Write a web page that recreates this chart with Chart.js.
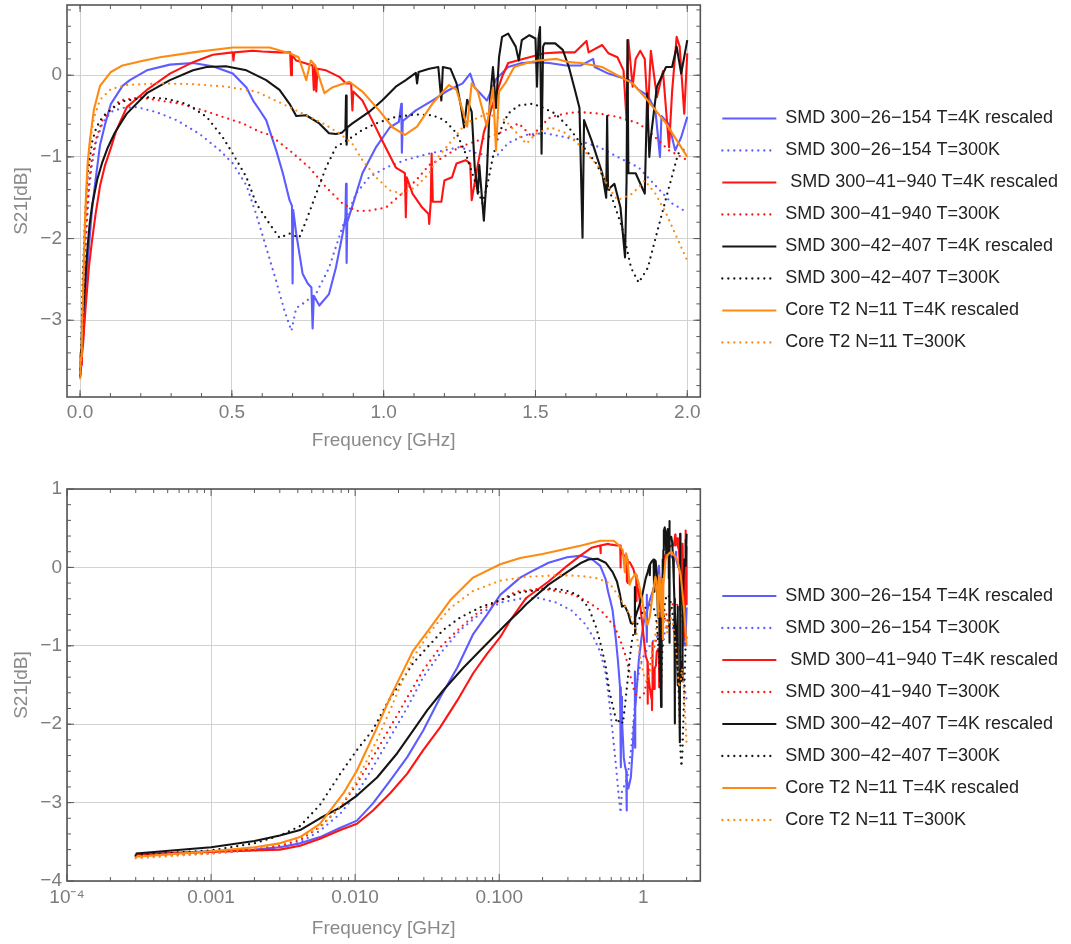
<!DOCTYPE html>
<html>
<head>
<meta charset="utf-8">
<script src="https://cdn.jsdelivr.net/npm/chart.js@4.4.1/dist/chart.umd.min.js"></script>
<style>
  html, body { margin: 0; padding: 0; background: #fff; overflow: hidden; }
  canvas { position: absolute; left: 0; }
  #top { top: 0; }
  #bottom { top: 472px; }
</style>
</head>
<body>
<canvas id="top" width="1071" height="456"></canvas>
<canvas id="bottom" width="1071" height="472"></canvas>
<script>
// Frequencies in GHz, S21 in dB.
const blue4kFreq = [
  0.0003, 0.001, 0.002, 0.003, 0.00415, 0.0057, 0.0079, 0.0103, 0.0133, 0.0175,
  0.023, 0.0297, 0.0389, 0.0511, 0.066, 0.0825, 0.1016, 0.14, 0.164, 0.22,
  0.296, 0.372, 0.437, 0.503, 0.548, 0.57, 0.59, 0.613, 0.646, 0.668,
  0.69, 0.698, 0.700, 0.702, 0.712, 0.733, 0.75, 0.762, 0.766, 0.770,
  0.788, 0.82, 0.843, 0.865, 0.874, 0.876, 0.878, 0.88, 0.897, 0.93,
  0.975, 1.02, 1.05, 1.058, 1.06, 1.063, 1.106, 1.16, 1.215, 1.26,
  1.285, 1.30, 1.34, 1.37, 1.41, 1.455, 1.50, 1.545, 1.60, 1.65,
  1.69, 1.695, 1.74, 1.81, 1.84, 1.87, 1.895, 1.91, 1.915, 1.94,
  1.96, 1.98, 2.0];
const blue4kS21 = [
  -3.66, -3.62, -3.60, -3.57, -3.52, -3.44, -3.32, -3.23, -3.01, -2.72,
  -2.42, -2.08, -1.66, -1.28, -0.85, -0.6, -0.35, -0.13, -0.06, 0.06,
  0.13, 0.15, 0.11, 0.02, -0.15, -0.31, -0.42, -0.55, -0.92, -1.2,
  -1.53, -1.6, -2.55, -1.65, -1.94, -2.43, -2.55, -2.6, -3.1, -2.7,
  -2.82, -2.68, -2.35, -1.94, -1.75, -1.33, -2.3, -1.8, -1.6, -1.2,
  -0.88, -0.64, -0.57, -0.35, -0.95, -0.56, -0.43, -0.31, -0.18, -0.1,
  0.02, -0.15, -0.31, -0.05, 0.1, 0.15, 0.16, 0.15, 0.12, 0.12,
  0.2, 0.1, 0.02, -0.06, -0.18, -0.25, -0.43, -1.0, -0.5, -0.6,
  -0.92, -0.76, -0.51];

const blue300Freq = [
  0.0003, 0.001, 0.002, 0.003, 0.00415, 0.0057, 0.0079, 0.0103, 0.0133, 0.0175,
  0.023, 0.0297, 0.0389, 0.0536, 0.0738, 0.1016, 0.14, 0.187, 0.25, 0.318,
  0.394, 0.46, 0.503, 0.548, 0.58, 0.613, 0.646, 0.673, 0.696, 0.712,
  0.733, 0.778, 0.82, 0.864, 0.909, 0.952, 1.008, 1.07, 1.15, 1.25,
  1.31, 1.37, 1.41, 1.47, 1.53, 1.60, 1.64, 1.71, 1.77, 1.84,
  1.90, 1.95, 2.0];
const blue300S21 = [
  -3.68, -3.64, -3.61, -3.57, -3.51, -3.36, -3.14, -2.88, -2.55, -2.17,
  -1.79, -1.40, -1.10, -0.80, -0.59, -0.45, -0.40, -0.39, -0.45, -0.55,
  -0.72, -0.92, -1.08, -1.35, -1.70, -2.11, -2.52, -2.88, -3.13, -2.85,
  -2.8, -2.67, -2.36, -1.86, -1.45, -1.25, -1.13, -1.04, -0.96, -0.88,
  -0.96, -1.0, -0.83, -0.73, -0.71, -0.76, -0.8, -0.88, -1.0, -1.13,
  -1.37, -1.57, -1.68];

const red4kFreq = [
  0.0003, 0.001, 0.002, 0.003, 0.00415, 0.0057, 0.0079, 0.0103, 0.0133, 0.0175,
  0.023, 0.0297, 0.0389, 0.0511, 0.066, 0.0825, 0.1016, 0.119, 0.154, 0.22,
  0.296, 0.372, 0.437, 0.503, 0.505, 0.508, 0.568, 0.60, 0.657, 0.692,
  0.695, 0.698, 0.712, 0.766, 0.770, 0.774, 0.778, 0.782, 0.81, 0.854,
  0.876, 0.893, 0.897, 0.90, 0.93, 0.962, 0.995, 1.04, 1.07, 1.073,
  1.076, 1.095, 1.127, 1.148, 1.15, 1.155, 1.158, 1.162, 1.19, 1.20,
  1.225, 1.24, 1.27, 1.285, 1.29, 1.31, 1.33, 1.36, 1.39, 1.41,
  1.48, 1.53, 1.58, 1.63, 1.668, 1.675, 1.72, 1.74, 1.77, 1.79,
  1.80, 1.806, 1.82, 1.83, 1.845, 1.86, 1.87, 1.88, 1.90, 1.92,
  1.94, 1.95, 1.965, 1.975, 1.99, 2.0];
const red4kS21 = [
  -3.66, -3.63, -3.61, -3.60, -3.55, -3.46, -3.35, -3.27, -3.10, -2.88,
  -2.63, -2.33, -2.04, -1.70, -1.35, -1.10, -0.89, -0.68, -0.39, -0.18,
  0.02, 0.16, 0.25, 0.28, 0.18, 0.28, 0.30, 0.29, 0.28, 0.28,
  0.0, 0.25, 0.18, 0.12, -0.18, 0.1, -0.2, 0.08, 0.06, -0.02,
  -0.1, -0.1, -0.43, -0.2, -0.31, -0.55, -0.8, -1.13, -1.2, -1.74,
  -1.25, -1.45, -1.62, -1.7, -1.82, -1.55, -0.96, -1.55, -1.55, -1.29,
  -1.25, -1.08, -1.04, -1.08, -1.53, -1.1, -0.7, -0.35, -0.02, 0.15,
  0.22, 0.27, 0.28, 0.28, 0.42, 0.28, 0.37, 0.27, 0.22, 0.06,
  -0.55, 0.43, -0.14, 0.2, 0.3, 0.2, -0.47, 0.3, -0.27, 0.05,
  -0.88, -0.2, 0.47, 0.35, -0.47, 0.27];

const red300Freq = [
  0.0003, 0.001, 0.002, 0.003, 0.00415, 0.0057, 0.0079, 0.0103, 0.0133, 0.0175,
  0.023, 0.0297, 0.0389, 0.0536, 0.0738, 0.1016, 0.131, 0.197, 0.263, 0.33,
  0.404, 0.47, 0.535, 0.59, 0.624, 0.69, 0.755, 0.81, 0.864, 0.909,
  0.95, 1.008, 1.06, 1.106, 1.15, 1.18, 1.25, 1.31, 1.38, 1.445,
  1.49, 1.51, 1.55, 1.60, 1.64, 1.71, 1.77, 1.84, 1.88, 1.94,
  2.0];
const red300S21 = [
  -3.69, -3.65, -3.60, -3.55, -3.48, -3.31, -3.06, -2.76, -2.42, -2.04,
  -1.66, -1.31, -1.02, -0.77, -0.55, -0.42, -0.31, -0.27, -0.31, -0.35,
  -0.43, -0.51, -0.59, -0.69, -0.73, -0.92, -1.13, -1.37, -1.57, -1.66,
  -1.66, -1.62, -1.45, -1.29, -1.1, -1.04, -0.88, -0.8, -0.71, -0.59,
  -0.76, -0.65, -0.51, -0.47, -0.45, -0.47, -0.51, -0.59, -0.71, -0.92,
  -1.04];

const black4kFreq = [
  0.0003, 0.001, 0.002, 0.003, 0.00415, 0.0057, 0.0079, 0.0103, 0.0142, 0.0196,
  0.0253, 0.0317, 0.0408, 0.0564, 0.0738, 0.0909, 0.1136, 0.14, 0.154, 0.22,
  0.296, 0.372, 0.417, 0.48, 0.548, 0.613, 0.657, 0.69, 0.712, 0.745,
  0.788, 0.82, 0.843, 0.864, 0.874, 0.876, 0.878, 0.88, 0.897, 0.952,
  0.995, 1.04, 1.073, 1.106, 1.11, 1.115, 1.15, 1.18, 1.19, 1.195,
  1.22, 1.24, 1.255, 1.265, 1.275, 1.29, 1.30, 1.31, 1.315, 1.33,
  1.34, 1.35, 1.36, 1.37, 1.38, 1.39, 1.41, 1.435, 1.445, 1.455,
  1.48, 1.50, 1.505, 1.51, 1.515, 1.52, 1.525, 1.53, 1.565, 1.59,
  1.61, 1.63, 1.645, 1.655, 1.66, 1.685, 1.72, 1.733, 1.736, 1.739,
  1.76, 1.78, 1.795, 1.80, 1.803, 1.806, 1.83, 1.86, 1.868, 1.875,
  1.88, 1.90, 1.93, 1.95, 1.965, 1.98, 2.0];
const black4kS21 = [
  -3.65, -3.57, -3.49, -3.42, -3.35, -3.20, -3.06, -2.91, -2.68, -2.37,
  -2.08, -1.82, -1.57, -1.28, -1.06, -0.89, -0.71, -0.55, -0.47, -0.22,
  -0.06, 0.06, 0.1, 0.11, 0.06, -0.06, -0.18, -0.35, -0.5, -0.49,
  -0.59, -0.71, -0.72, -0.7, -0.66, -0.25, -0.85, -0.64, -0.59, -0.45,
  -0.31, -0.14, -0.06, 0.03, -0.1, 0.04, 0.08, 0.1, -0.31, 0.1,
  0.08, -0.1, -0.39, -0.64, -0.3, -0.45, -1.13, -1.45, -1.1, -1.78,
  -1.2, -0.31, 0.1, -0.4, 0.22, 0.47, 0.51, 0.35, 0.18, 0.43,
  0.49, 0.45, -0.14, 0.45, 0.59, -0.96, 0.35, 0.39, 0.39, 0.31,
  0.1, -0.18, -0.4, -1.99, -0.55, -0.8, -1.2, -1.5, -0.5, -1.4,
  -1.33, -1.62, -2.23, -1.3, 0.43, -1.2, -1.2, -1.45, -0.22, -1.0,
  -0.76, -0.14, 0.1, 0.1, 0.35, 0.02, 0.43];

const black300Freq = [
  0.0003, 0.001, 0.002, 0.003, 0.00415, 0.0057, 0.0079, 0.0103, 0.0133, 0.0167,
  0.0205, 0.0253, 0.0317, 0.0408, 0.0536, 0.0738, 0.1016, 0.14, 0.22, 0.286,
  0.35, 0.417, 0.47, 0.503, 0.548, 0.58, 0.624, 0.657, 0.69, 0.722,
  0.745, 0.778, 0.81, 0.843, 0.887, 0.93, 0.975, 1.04, 1.106, 1.16,
  1.2, 1.24, 1.27, 1.30, 1.325, 1.34, 1.36, 1.38, 1.41, 1.445,
  1.49, 1.52, 1.565, 1.61, 1.65, 1.70, 1.74, 1.785, 1.815, 1.84,
  1.87, 1.905, 1.94, 1.97, 2.0];
const black300S21 = [
  -3.67, -3.61, -3.52, -3.42, -3.30, -3.03, -2.63, -2.33, -2.07, -1.73,
  -1.48, -1.22, -1.02, -0.80, -0.64, -0.51, -0.42, -0.32, -0.27, -0.29,
  -0.35, -0.51, -0.76, -0.96, -1.25, -1.57, -1.82, -1.99, -1.94, -1.99,
  -1.78, -1.45, -1.13, -0.88, -0.78, -0.67, -0.59, -0.51, -0.48, -0.49,
  -0.55, -0.71, -0.96, -1.29, -1.57, -1.37, -1.0, -0.71, -0.47, -0.37,
  -0.35, -0.39, -0.47, -0.64, -0.84, -1.08, -1.37, -1.86, -2.36, -2.54,
  -2.36, -1.86, -1.37, -0.96, -0.88];

const core4kFreq = [
  0.0003, 0.0005, 0.001, 0.002, 0.003, 0.00415, 0.0057, 0.0083, 0.0103, 0.0142,
  0.0175, 0.0205, 0.0253, 0.0332, 0.0457, 0.0659, 0.1016, 0.14, 0.2, 0.263,
  0.372, 0.503, 0.624, 0.69, 0.72, 0.745, 0.76, 0.775, 0.79, 0.805,
  0.83, 0.854, 0.887, 0.93, 0.985, 1.03, 1.07, 1.11, 1.16, 1.215,
  1.24, 1.26, 1.275, 1.29, 1.31, 1.34, 1.36, 1.37, 1.38, 1.40,
  1.43, 1.48, 1.51, 1.57, 1.61, 1.65, 1.72, 1.76, 1.82, 1.87,
  1.93, 2.0];
const core4kS21 = [
  -3.69, -3.66, -3.62, -3.57, -3.52, -3.44, -3.27, -2.88, -2.59, -2.04,
  -1.66, -1.40, -1.06, -0.77, -0.42, -0.13, 0.04, 0.12, 0.17, 0.22,
  0.28, 0.34, 0.34, 0.27, 0.22, -0.06, 0.18, 0.12, -0.05, -0.22,
  -0.15, -0.12, -0.08, -0.2, -0.43, -0.64, -0.73, -0.63, -0.35, -0.12,
  -0.18, -0.43, -0.63, -0.1, -0.2, -0.63, -0.15, -0.92, -0.2, -0.1,
  0.1, 0.16, 0.18, 0.2, 0.16, 0.15, 0.1, 0.02, -0.1, -0.31,
  -0.59, -1.0];

const core300Freq = [
  0.0003, 0.001, 0.002, 0.003, 0.00415, 0.0057, 0.0083, 0.0103, 0.0142, 0.0175,
  0.0205, 0.0253, 0.0332, 0.0457, 0.0659, 0.1016, 0.153, 0.263, 0.372, 0.48,
  0.58, 0.667, 0.733, 0.80, 0.854, 0.897, 0.93, 0.975, 1.02, 1.06,
  1.106, 1.15, 1.18, 1.225, 1.27, 1.34, 1.40, 1.47, 1.50, 1.55,
  1.60, 1.64, 1.71, 1.74, 1.77, 1.82, 1.86, 1.895, 1.93, 1.96,
  2.0];
const core300S21 = [
  -3.71, -3.65, -3.59, -3.52, -3.45, -3.32, -3.0, -2.72, -2.2, -1.82,
  -1.52, -1.15, -0.82, -0.52, -0.30, -0.17, -0.12, -0.1, -0.11, -0.14,
  -0.2, -0.35, -0.47, -0.59, -0.71, -0.84, -1.04, -1.25, -1.41, -1.45,
  -1.37, -1.2, -1.0, -0.8, -0.59, -0.47, -0.55, -0.84, -0.72, -0.64,
  -0.71, -0.84, -1.13, -1.37, -1.53, -1.45, -1.29, -1.45, -1.69, -1.94,
  -2.27];

const seriesLabels = [
  'SMD 300\u221226\u2212154 T=4K rescaled',
  'SMD 300\u221226\u2212154 T=300K',
  ' SMD 300\u221241\u2212940 T=4K rescaled',
  'SMD 300\u221241\u2212940 T=300K',
  'SMD 300\u221242\u2212407 T=4K rescaled',
  'SMD 300\u221242\u2212407 T=300K',
  'Core T2 N=11 T=4K rescaled',
  'Core T2 N=11 T=300K'
];
const seriesFreqs = [blue4kFreq, blue300Freq, red4kFreq, red300Freq, black4kFreq, black300Freq, core4kFreq, core300Freq];
const seriesValues = [blue4kS21, blue300S21, red4kS21, red300S21, black4kS21, black300S21, core4kS21, core300S21];
const seriesColors = ['#5c5cff', '#5c5cff', '#ff1414', '#ff1414', '#151515', '#151515', '#ff8a12', '#ff8a12'];

// Tick labels
const linTicks = [0, 0.5, 1, 1.5, 2];
const linYTicks = [-3, -2, -1, 0];
const logTicks = [1e-4, 1e-3, 1e-2, 1e-1, 1];
const logTickLabels = ['10\u207B\u2074', '0.001', '0.010', '0.100', '1'];
const logYTicks = [-4, -3, -2, -1, 0, 1];

const tickColor = '#7c7c7c';
const titleColor = '#8a8a8a';
const gridColor = '#d2d2d2';

Chart.defaults.font.family = '"Liberation Sans", Arial, sans-serif';
Chart.defaults.font.size = 19;

function dbLabel(v) {
  return v < 0 ? '\u2212' + Math.abs(v) : String(v);
}

function makeDatasets() {
  return seriesLabels.map((label, i) => {
    const dotted = i % 2 === 1;
    return {
      label: label,
      data: seriesFreqs[i].map((f, k) => ({ x: f, y: seriesValues[i][k] })),
      borderColor: seriesColors[i],
      backgroundColor: seriesColors[i],
      borderWidth: dotted ? 2.3 : 2.1,
      borderDash: dotted ? [0, 6] : [],
      borderCapStyle: dotted ? 'round' : 'butt',
      borderJoinStyle: 'round',
      pointRadius: 0,
      tension: 0,
      // later series are drawn on top, like the original plot
      order: 8 - i
    };
  });
}

// Mathematica-like frame with inward ticks on all four sides
const framePlugin = {
  id: 'frame',
  afterLayout(chart) {
    // the legend sits a little further from the frame in the original
    chart.legend.left += 8;
    chart.legend.right += 8;
  },
  afterDatasetsDraw(chart, args, opts) {
    const { ctx, chartArea: a, scales: { x, y } } = chart;
    ctx.save();
    ctx.strokeStyle = '#5a5a5a';
    ctx.lineWidth = 1;
    const seg = (x1, y1, x2, y2) => { ctx.beginPath(); ctx.moveTo(x1, y1); ctx.lineTo(x2, y2); ctx.stroke(); };
    const xMarks = (vals, len) => vals.forEach(v => {
      const p = x.getPixelForValue(v);
      if (p < a.left - 0.5 || p > a.right + 0.5) return;
      seg(p, a.bottom, p, a.bottom - len);
      seg(p, a.top, p, a.top + len);
    });
    const yMarks = (vals, len) => vals.forEach(v => {
      const p = y.getPixelForValue(v);
      if (p < a.top - 0.5 || p > a.bottom + 0.5) return;
      seg(a.left, p, a.left + len, p);
      seg(a.right, p, a.right - len, p);
    });
    xMarks(opts.xMinor, 4);
    xMarks(opts.xMajor, 7);
    yMarks(opts.yMinor, 4);
    yMarks(opts.yMajor, 7);
    ctx.lineWidth = 1.6;
    ctx.strokeStyle = '#555';
    ctx.strokeRect(a.left, a.top, a.right - a.left, a.bottom - a.top);
    ctx.restore();
  }
};

function steps(from, to, step) {
  const out = [];
  for (let v = from; v <= to + 1e-9; v += step) out.push(Math.round(v * 1000) / 1000);
  return out;
}

const logMinor = [];
for (let d = -4; d <= 0; d++) {
  for (let m = 2; m <= 9; m++) logMinor.push(m * Math.pow(10, d));
}

const legendOptions = {
  position: 'right',
  maxWidth: 420,
  labels: {
    usePointStyle: true,
    pointStyle: 'line',
    pointStyleWidth: 54,
    color: '#222',
    padding: 14,
    font: { size: 18 },
    sort: (a, b) => a.datasetIndex - b.datasetIndex,
    generateLabels(chart) {
      const items = Chart.defaults.plugins.legend.labels.generateLabels(chart);
      items.forEach(it => {
        const ds = chart.data.datasets[it.datasetIndex];
        it.lineDash = ds.borderDash;
        it.lineCap = ds.borderCapStyle;
        it.lineWidth = ds.borderWidth;
        it.strokeStyle = ds.borderColor;
      });
      return items;
    }
  }
};

function yAxis(min, max, ticks) {
  return {
    type: 'linear',
    min: min,
    max: max,
    afterBuildTicks: s => { s.ticks = ticks.map(v => ({ value: v })); },
    afterFit: s => { s.width = 67; s.paddingTop = 0; s.paddingBottom = 0; },
    ticks: { padding: 5, color: tickColor, callback: v => dbLabel(v), autoSkip: false },
    grid: { color: gridColor, drawTicks: false },
    border: { display: false },
    title: { display: true, text: 'S21[dB]', color: titleColor, padding: { top: 10, bottom: 0 } }
  };
}

function xTitle() {
  return { display: true, text: 'Frequency [GHz]', color: titleColor, padding: { top: 0, bottom: 4 } };
}

new Chart(document.getElementById('top'), {
  type: 'line',
  data: { datasets: makeDatasets() },
  options: {
    responsive: false,
    animation: false,
    devicePixelRatio: 1,
    events: [],
    layout: { padding: { top: 5, right: 11, bottom: 0, left: 0 } },
    scales: {
      x: {
        type: 'linear',
        min: -0.043,
        max: 2.043,
        afterBuildTicks: s => { s.ticks = linTicks.map(v => ({ value: v })); },
        afterFit: s => { s.height = 59; s.paddingLeft = 0; s.paddingRight = 0; },
        ticks: { padding: 4, color: tickColor, maxRotation: 0, autoSkip: false, callback: v => v.toFixed(1) },
        grid: { color: gridColor, drawTicks: false },
        border: { display: false },
        title: xTitle()
      },
      y: yAxis(-3.94, 0.86, linYTicks)
    },
    plugins: {
      legend: legendOptions,
      tooltip: { enabled: false },
      frame: { xMajor: linTicks, xMinor: steps(0, 2, 0.1), yMajor: linYTicks, yMinor: steps(-3.8, 0.8, 0.2) }
    }
  },
  plugins: [framePlugin]
});

new Chart(document.getElementById('bottom'), {
  type: 'line',
  data: { datasets: makeDatasets() },
  options: {
    responsive: false,
    animation: false,
    devicePixelRatio: 1,
    events: [],
    layout: { padding: { top: 0, right: 11, bottom: 0, left: 0 } },
    scales: {
      x: {
        type: 'logarithmic',
        min: 1e-4,
        max: 2.49,
        afterBuildTicks: s => { s.ticks = logTicks.map(v => ({ value: v })); },
        afterFit: s => { s.height = 63; s.paddingLeft = 0; s.paddingRight = 0; },
        ticks: { padding: 5, color: tickColor, maxRotation: 0, autoSkip: false, callback: (v, i) => logTickLabels[i] },
        grid: { color: gridColor, drawTicks: false },
        border: { display: false },
        title: xTitle()
      },
      y: yAxis(-4, 1, logYTicks)
    },
    plugins: {
      // empty title only reserves the gap above the plot
      title: { display: true, text: '', padding: 0, font: { size: 17, lineHeight: 1 } },
      legend: legendOptions,
      tooltip: { enabled: false },
      frame: { xMajor: logTicks, xMinor: logMinor, yMajor: logYTicks, yMinor: steps(-3.8, 0.8, 0.2) }
    }
  },
  plugins: [framePlugin]
});
</script>
</body>
</html>
